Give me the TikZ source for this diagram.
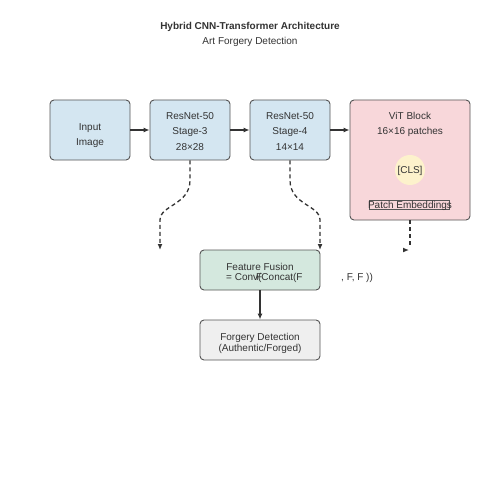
\documentclass[tikz,border=0pt]{standalone}
\usepackage{fontspec}
\setmainfont{Liberation Sans}
\usetikzlibrary{arrows.meta}
\definecolor{edgec}{HTML}{555555}
\definecolor{arrc}{HTML}{333333}
\definecolor{txtc}{HTML}{333333}
\definecolor{bluef}{HTML}{D4E6F1}
\definecolor{pinkf}{HTML}{F8D7DA}
\definecolor{greenf}{HTML}{D4E8DE}
\definecolor{grayf}{HTML}{EFEFEF}
\definecolor{clsf}{HTML}{FDF2CC}
\tikzset{
  blk/.style={draw=edgec, line width=0.9pt, rounded corners=4pt, inner sep=0pt},
  lbl/.style={font=\fontsize{10}{12}\selectfont, text=txtc, inner sep=0pt, anchor=base},
  arr/.style={draw=arrc, line width=1.3pt, -{Latex[length=6pt,width=5pt]}},
  darr/.style={draw=arrc, line width=1.3pt, dash pattern=on 4pt off 3pt, -{Latex[length=6pt,width=5pt]}},
}
\begin{document}
\begin{tikzpicture}[x=1pt,y=-1pt]
\useasboundingbox[fill=white] (0,0) rectangle (500,500);
% title
\node[lbl, font=\bfseries\fontsize{10}{12}\selectfont] (title) at (250,30) {Hybrid CNN-Transformer Architecture};
\node[lbl] (sub) at (250,45) {Art Forgery Detection};
% boxes
\node[blk, fill=bluef, minimum width=80pt, minimum height=60pt] (inp) at (90,130) {};
\node[blk, fill=bluef, minimum width=80pt, minimum height=60pt] (s3) at (190,130) {};
\node[blk, fill=bluef, minimum width=80pt, minimum height=60pt] (s4) at (290,130) {};
\node[blk, fill=pinkf, minimum width=120pt, minimum height=120pt] (vit) at (410,160) {};
\node[blk, fill=greenf, minimum width=120pt, minimum height=40pt] (fus) at (260,270) {};
\node[blk, fill=grayf, minimum width=120pt, minimum height=40pt] (det) at (260,340) {};
\node[circle, fill=clsf, minimum size=30pt, inner sep=0pt] (cls) at (410,170) {};
\node[draw=edgec, line width=0.8pt, minimum width=80pt, minimum height=9pt, inner sep=0pt] (pe) at (409,204.5) {};
% texts
\node[lbl] (t1) at (90,131) {Input};
\node[lbl] (t2) at (90,145) {Image};
\node[lbl] (t3) at (190,120) {ResNet-50};
\node[lbl] (t4) at (190,135) {Stage-3};
\node[lbl] (t5) at (190,150) {28×28};
\node[lbl] (t6) at (290,120) {ResNet-50};
\node[lbl] (t7) at (290,135) {Stage-4};
\node[lbl] (t8) at (290,150) {14×14};
\node[lbl] (t9) at (410,120) {ViT Block};
\node[lbl] (t10) at (410,135) {16×16 patches};
\node[lbl] (t11) at (410,173) {[CLS]};
\node[lbl] (t12) at (410,208) {Patch Embeddings};
\node[lbl] (t13) at (260,270) {Feature Fusion};
\node[lbl, anchor=base west] (t14) at (226,280) {= Conv(Concat(F};
\node[lbl, anchor=base west] (t14b) at (256,280) {F};
\node[lbl, anchor=base west] (t15) at (341,280) {, F, F ))};
\node[lbl] (t16) at (260,340) {Forgery Detection};
\node[lbl] (t17) at (260,351) {(Authentic/Forged)};
% arrows
\draw[arr] (inp.east) -- (s3.west);
\draw[arr] (s3.east) -- (s4.west);
\draw[arr] (s4.east) -- (vit.west |- s4.east);
\coordinate (e1) at (160,250);
\coordinate (e2) at (320,250);
\coordinate (e3a) at (410,246);
\coordinate (e3) at (409,250);
\draw[darr] (s3.south) -- (190,180) .. controls (190,205) and (160,205) .. (160,220) -- (e1);
\draw[darr] (s4.south) -- (290,180) .. controls (290,205) and (320,205) .. (320,220) -- (e2);
\draw[draw=arrc, line width=1.3pt, dash pattern=on 4pt off 3pt] (vit.south) -- (e3a);
\draw[arrc, line width=1.3pt, -{Latex[length=6pt,width=5pt]}] (403,250) -- (e3);
\draw[arr] (fus.south) -- (det.north);
\end{tikzpicture}
\end{document}
